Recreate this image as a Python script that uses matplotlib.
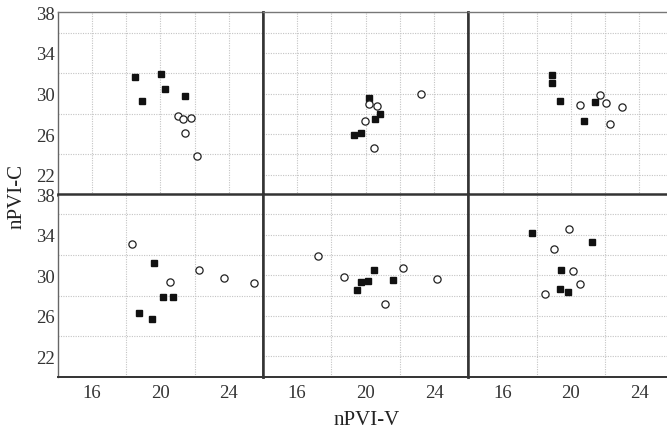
import matplotlib
matplotlib.use("Agg")
import matplotlib.pyplot as plt

plt.rcParams["font.family"] = ["Liberation Serif", "DejaVu Serif"]

# panel order: top row left->right, then bottom row left->right
filled_x = [
    [18.53, 18.93, 20.02, 20.25, 21.47],
    [20.18, 20.83, 20.57, 19.71, 19.34],
    [18.89, 18.87, 19.36, 21.39, 20.79],
    [19.61, 20.18, 20.72, 18.78, 19.51],
    [20.49, 19.71, 20.12, 19.51, 21.61],
    [17.70, 21.21, 19.44, 19.36, 19.83],
]
filled_y = [
    [31.6, 29.3, 31.95, 30.44, 29.78],
    [29.56, 27.98, 27.46, 26.14, 25.91],
    [31.82, 31.06, 29.23, 29.19, 27.32],
    [31.2, 27.9, 27.9, 26.25, 25.72],
    [30.48, 29.29, 29.46, 28.56, 29.49],
    [34.14, 33.25, 30.5, 28.6, 28.33],
]
open_x = [
    [21.04, 21.31, 21.82, 21.47, 22.15],
    [23.21, 20.20, 20.65, 19.95, 20.46],
    [21.72, 20.55, 22.02, 23.00, 22.27],
    [18.34, 20.57, 22.25, 23.71, 25.45],
    [17.19, 18.73, 22.19, 24.16, 21.14],
    [19.88, 19.00, 20.11, 20.52, 18.51],
]
open_y = [
    [27.78, 27.52, 27.56, 26.08, 23.87],
    [29.98, 29.0, 28.8, 27.26, 24.6],
    [29.82, 28.84, 29.03, 28.64, 26.97],
    [33.08, 29.35, 30.47, 29.68, 29.26],
    [31.89, 29.85, 30.67, 29.65, 27.14],
    [34.6, 32.58, 30.44, 29.16, 28.1],
]

x_ticks = [16, 20, 24]
y_ticks = [22, 26, 30, 34, 38]

fig = plt.figure(figsize=(6.67, 4.31), dpi=100)

left, width = 0.0865, 0.3078
bottoms = [0.5452, 0.1237]
height = 0.4238
dark = "#333333"

for i in range(6):
    row, col = divmod(i, 3)
    ax = fig.add_axes([left + col * width, bottoms[row], width, height])
    ax.set_xlim(14, 26)
    ax.set_ylim(20, 38)
    ax.set_xticks(range(16, 25, 2), minor=True)
    ax.set_yticks(range(22, 38, 2), minor=True)
    ax.grid(True, which="minor", color="#c4c4c4", lw=0.8, ls=(0, (1, 1.2)))
    ax.set_axisbelow(True)
    ax.tick_params(which="both", length=0, labelsize=13.5, colors="#333333")
    ax.tick_params(axis="x", pad=5)
    ax.tick_params(axis="y", pad=2)
    if row == 1:
        ax.set_xticks(x_ticks)
    else:
        ax.set_xticks([])
    if col == 0:
        ax.set_yticks(y_ticks)
    else:
        ax.set_yticks([])

    for s in ax.spines.values():
        s.set_color(dark)
        s.set_linewidth(1.8)
    if col == 0:
        ax.spines["left"].set_color("#666666")
        ax.spines["left"].set_linewidth(1.0)
    if row == 0:
        ax.spines["top"].set_color("#777777")
        ax.spines["top"].set_linewidth(1.0)
    else:
        ax.spines["bottom"].set_linewidth(1.4)

    ax.plot(filled_x[i], filled_y[i], ls="none", marker="s", ms=4.8,
            mfc="#111111", mec="#111111", clip_on=False)
    ax.plot(open_x[i], open_y[i], ls="none", marker="o", ms=5.2,
            mfc="white", mec="#222222", mew=0.9, clip_on=False)

fig.text(0.026, 0.5452, "nPVI-C", rotation=90, ha="center", va="center",
         fontsize=15, color="#222222")
fig.text(0.549, 0.025, "nPVI-V", ha="center", va="center",
         fontsize=15, color="#222222")

fig.savefig("out.png", dpi=100)
